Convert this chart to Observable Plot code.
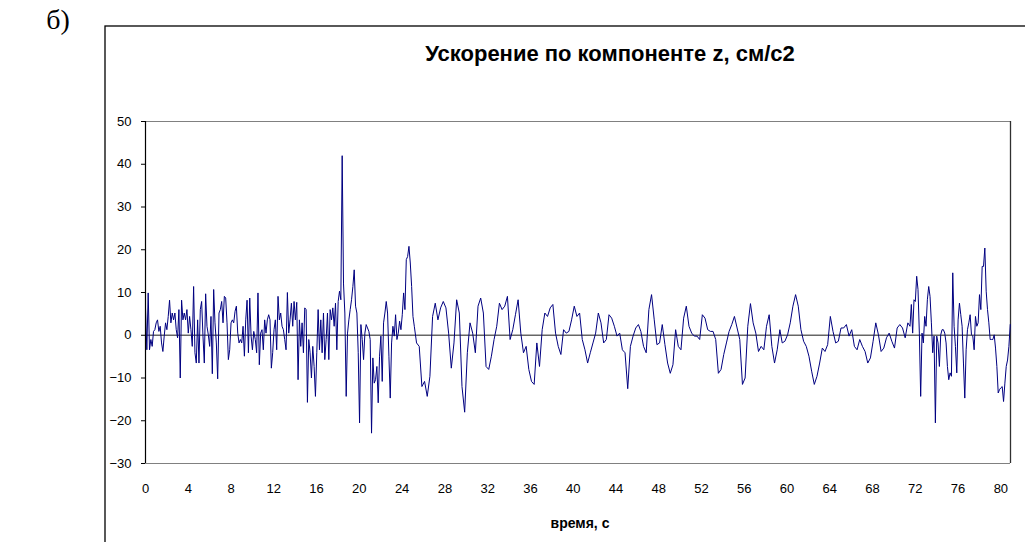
<!DOCTYPE html>
<html><head><meta charset="utf-8">
<script src="https://cdn.jsdelivr.net/npm/d3@7"></script>
<script src="https://cdn.jsdelivr.net/npm/@observablehq/plot@0.6"></script>
<style>body{margin:0;background:#fff}#chart{width:1025px;height:542px;overflow:hidden}</style>
</head><body><div id="chart"></div>
<script>
// Acceleration, z component (cm/s^2) in segments
const start0 = 0, step0 = 0.125;
const accel0 = [6.4,-3.4,9.9,-3.4,-1.0,-2.6,0.9,1.3,2.9,3.6,0.9,2.1,-1.8,-3.8,-0.2,2.9,1.3,4.4,8.2,2.9,5.2,3.6,5.2,1.3,-0.6,6.0,-10.0,8.2,3.6,5.2,3.6,6.0,0.5,4.4,1.3,-2.6,11.4,-4.1,-6.5,3.6,-6.5,6.0,7.9,-0.2,-6.5,9.7,2.1,0.1,-2.6,4.4,-9.0,10.7,2.9,-1.8,-10.2,5.2,6.0,7.9,2.9,9.1,8.7,2.9,-5.7,-3.4,2.9,3.6,2.9,5.6,6.8,0.5,-1.8,-1.0,-1.8,2.1,-4.9,3.6,8.2,-4.1,8.7,-0.2,-3.4,0.9];
const start1 = 10.27, step1 = 0.125;
const accel1 = [-1.0,-4.1,9.9,-6.9,0.5,1.3,-3.4,3.6,0.5,3.6,4.8,3.6,-7.7,-4.1,1.3,3.6,-3.4,9.1,3.6,5.2,2.1,1.3,-1.0,-3.4,10.0,0.5,3.6,7.5,2.1,7.9,3.6,7.7,-10.4,3.6,-2.6,2.9,-4.1,6.4,6.0,-15.7,-1.0,-4.1,-10.0,-2.6,-7.3,-14.3,-4.1,6.0,-3.4,3.6,-4.1,5.2,-5.7,-1.0,5.2,-5.7,6.0,3.6,6.4,2.1,7.5,-3.4,7.9,10.3,8.3,42,12,5.2,-14.3,0.5,3.6,6.0,8.3,11.4,15.3,6.8,5.2,-4.1,-20.5,2.5,-1.0,-5.7,0.5];
const start2 = 20.64, step2 = 0.125;
const accel2 = [2.5,1.7,0.9,-1.0,-22.9,-5.3,-11.2,-10.4,-7.3,-15.8,-4.9,-0.2,-10.8,2.9,5.2,7.9,5.2,-4.9,-14.7,-1.8,2.1,-0.2,4.8,-1.0,0.5,3.3,1.3,4.8,9.9,6.0,17.7,18.4,20.8,16.9,11.4,4.4,2.1];
const start3 = 25.35, step3 = 0.25;
const accel3 = [-1.8,-2.6,-12.0,-10.8,-14.3,-9.6,4.4,7.5,3.6,6.4,7.9,6.4,0.5,-7.7,-1.8,8.3,5.2,-12.0,-18.0,-4.1,2.9,0.5,-4.1,6.8,8.7,5.2,-7.3,-8.0,-4.9,-1.0,2.1,7.5];
const start4 = 33.35, step4 = 0.25;
const accel4 = [6.0,6.8,9.1,-1.0,1.3,4.8,8.3,0.5,-4.1,-2.6,-8.0,-10.8,-11.5,-1.8,-7.3,1.3,5.2,4.4,6.4,7.2,0.5,-2.6,-4.5,1.3,0.5,0.9,3.6,6.8,4.4,5.2,-1.0,-3.4,-6.5,-4.1,-1.8,0.5,5.2,2.9,-1.8,-1.0,4.8,4.0,2.1,-0.2,0.5,-3.4,-4.1,-12.5,-2.6,-0.2,1.7,2.5];
const start5 = 46.33, step5 = 0.25;
const accel5 = [0.9,-2.6,-4.1,6.0,9.5,3.6,-2.2,-1.8,2.5,-2.2,-6.5,-8.9,-6.9,1.3,-2.6,-3.4,4.0,6.8,2.1,0.5,-0.2,-0.2,-1.0,4.8,4.0,1.3,0.9,0.9,-1.0,-8.9,-8.0,-4.5,-1.8,0.9,2.5,4.4,1.7,-1.0,-11.5,-10.0,2.1,7.4,2.9,0.5,-3.8,-2.6,-3.4,2.1,4.8,-2.6,-6.5,-3.4,1.3];
const start6 = 59.55, step6 = 0.25;
const accel6 = [-1.8,-1.4,0.1,2.9,6.8,9.5,6.8,1.3,-1.4,-2.6,-4.9,-8.4,-11.5,-9.6,-6.5,-3.0,-3.8,-2.2,4.4,0.9,-1.8,-1.4,1.7,1.7,2.5,-0.2,1.3,-2.6,-3.4,-1.0,-2.6,-3.8,-6.5,-5.3,-1.4,2.9,0.1,-3.8,-3.0,-0.6,0.5,-1.4,-3.0,1.7,2.5,1.7,-0.6,2.9];
const start7 = 71.5, step7 = 0.125;
const accel7 = [2.1,7.2,0.5,8.3,7.9,13.8,10.7,0.5,-14.3,0.5,-1.8,4.4,2.1,8.3,11.4,9.1,2.9,-4.1,-0.2,-20.5,-0.2,-1.8,-7.3,0.1,1.3,1.3,0.5,-1.8,-7.3,-10.4,-8.8,-9.6,14.6,2.1,-2.6,-8.8,3.6,7.5,4.8,2.1,-6.5,-14.7,-3.4,1.3,2.9,4.8,0.1,-0.2,-3.4,4.4,2.1,2.9,9.5,6.0,16.1,16.1,20.4,10.3,6.0,2.9,-1.0,-1.0,-1.0,0.1,-3.0,-7.3,-13.5,-12.7,-12.3,-12.0,-15.5,-11.2,-7.3,-5.8,-2.6,2.5];

const xTicks = [0,4,8,12,16,20,24,28,32,36,40,44,48,52,56,60,64,68,72,76,80];
const yTicks = [-30,-20,-10,0,10,20,30,40,50];
const xMax = 80.9;
const titleText = "Ускорение по компоненте z, см/с2";
const xLabelText = "время, с";
const panelLabel = "б)";

const segments = [
  [start0, step0, accel0], [start1, step1, accel1], [start2, step2, accel2],
  [start3, step3, accel3], [start4, step4, accel4], [start5, step5, accel5],
  [start6, step6, accel6], [start7, step7, accel7]
];
const data = segments.flatMap(([s, d, vals]) => vals.map((v, i) => ({t: s + i * d, v})));

const svg = Plot.plot({
  width: 1025, height: 542,
  marginLeft: 145, marginRight: 15, marginTop: 121, marginBottom: 79,
  style: {fontFamily: "'Liberation Sans', Arial, sans-serif", fontSize: "13px", background: "#fff", color: "#000", overflow: "visible"},
  x: {domain: [0, xMax], label: null},
  y: {domain: [-30, 50], label: null},
  marks: [
    Plot.ruleY([50], {stroke: "#808080", strokeWidth: 1.2}),
    Plot.ruleY([-30], {stroke: "#808080", strokeWidth: 1.2}),
    Plot.ruleX([xMax], {stroke: "#303030", strokeWidth: 1.3}),
    Plot.ruleY([0], {stroke: "#666", strokeWidth: 1.4}),
    Plot.line(data, {x: "t", y: "v", stroke: "#000080", strokeWidth: 1}),
    Plot.ruleX([0], {stroke: "#000", strokeWidth: 1.2}),
    Plot.axisX(xTicks, {tickSize: 0, tickPadding: 20, fontSize: 13, label: null}),
    Plot.axisY(yTicks, {tickSize: 4, tickPadding: 10, fontSize: 13, label: null})
  ]
});
document.getElementById("chart").appendChild(svg);

const s = d3.select(svg);
s.append("rect").attr("x", 105).attr("y", 26).attr("width", 1000).attr("height", 600)
  .attr("fill", "none").attr("stroke", "#000").attr("stroke-width", 1.3);
s.append("text").attr("x", 610).attr("y", 61).attr("text-anchor", "middle")
  .attr("font-family", "'Liberation Sans', Arial, sans-serif").attr("font-weight", "bold").attr("font-size", 22)
  .attr("fill", "#000").text(titleText);
s.append("text").attr("x", 580).attr("y", 528).attr("text-anchor", "middle")
  .attr("font-family", "'Liberation Sans', Arial, sans-serif").attr("font-weight", "bold").attr("font-size", 14)
  .attr("fill", "#000").text(xLabelText);
s.append("text").attr("x", 58).attr("y", 29)
  .attr("font-family", "'Liberation Serif', 'Times New Roman', serif").attr("font-size", 28)
  .attr("fill", "#000").text(panelLabel);
</script></body></html>
